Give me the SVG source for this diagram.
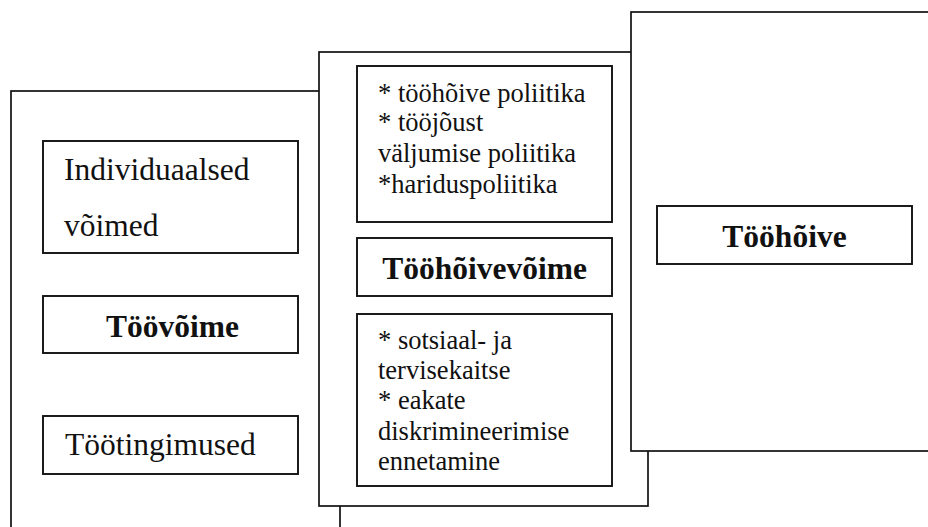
<svg xmlns="http://www.w3.org/2000/svg" width="928" height="527" viewBox="0 0 928 527">
<style>
.panel{fill:#fff;stroke:#111;stroke-width:1.7}
.box{fill:#fff;stroke:#111;stroke-width:1.9}
.reg{font-family:"Liberation Serif","Times New Roman",serif;font-size:31.5px;fill:#111}
.sm{font-family:"Liberation Serif","Times New Roman",serif;font-size:26.5px;fill:#111}
.bold{font-family:"Liberation Serif","Times New Roman",serif;font-size:31.5px;font-weight:bold;fill:#111;text-anchor:middle}
</style>
<rect width="928" height="527" fill="#fff"/>
<g id="panel-left">
<rect class="panel" x="11" y="91" width="329" height="460"/>
<g id="individuaalsed-voimed">
<rect class="box" x="43" y="141" width="255" height="112"/>
<text class="reg" x="64" y="180">Individuaalsed</text>
<text class="reg" x="64" y="235.5">võimed</text>
</g>
<g id="toovoime">
<rect class="box" x="43" y="296" width="255" height="57"/>
<text class="bold" x="172.5" y="336.5">Töövõime</text>
</g>
<g id="tootingimused">
<rect class="box" x="43" y="416" width="255" height="58"/>
<text class="reg" x="65" y="455">Töötingimused</text>
</g>
</g>
<g id="panel-middle">
<rect class="panel" x="319" y="52" width="329" height="454"/>
<g id="poliitikad">
<rect class="box" x="357" y="66" width="255" height="156"/>
<text class="sm" x="378" y="101.5">* tööhõive poliitika</text>
<text class="sm" x="378" y="131">* tööjõust</text>
<text class="sm" x="378" y="161.5">väljumise poliitika</text>
<text class="sm" x="378" y="192.5">*hariduspoliitika</text>
</g>
<g id="toohoivevoime">
<rect class="box" x="357" y="238" width="255" height="58"/>
<text class="bold" x="484.5" y="279">Tööhõivevõime</text>
</g>
<g id="kaitse">
<rect class="box" x="357" y="314" width="255" height="172"/>
<text class="sm" x="378" y="349">* sotsiaal- ja</text>
<text class="sm" x="378" y="378.5">tervisekaitse</text>
<text class="sm" x="378" y="409">* eakate</text>
<text class="sm" x="378" y="439.5">diskrimineerimise</text>
<text class="sm" x="378" y="470">ennetamine</text>
</g>
</g>
<g id="panel-right">
<rect class="panel" x="631" y="12" width="310" height="439"/>
<g id="toohoive">
<rect class="box" x="657" y="206" width="255" height="58"/>
<text class="bold" x="784.5" y="246.5">Tööhõive</text>
</g>
</g>
<g id="connectors"/>
</svg>
